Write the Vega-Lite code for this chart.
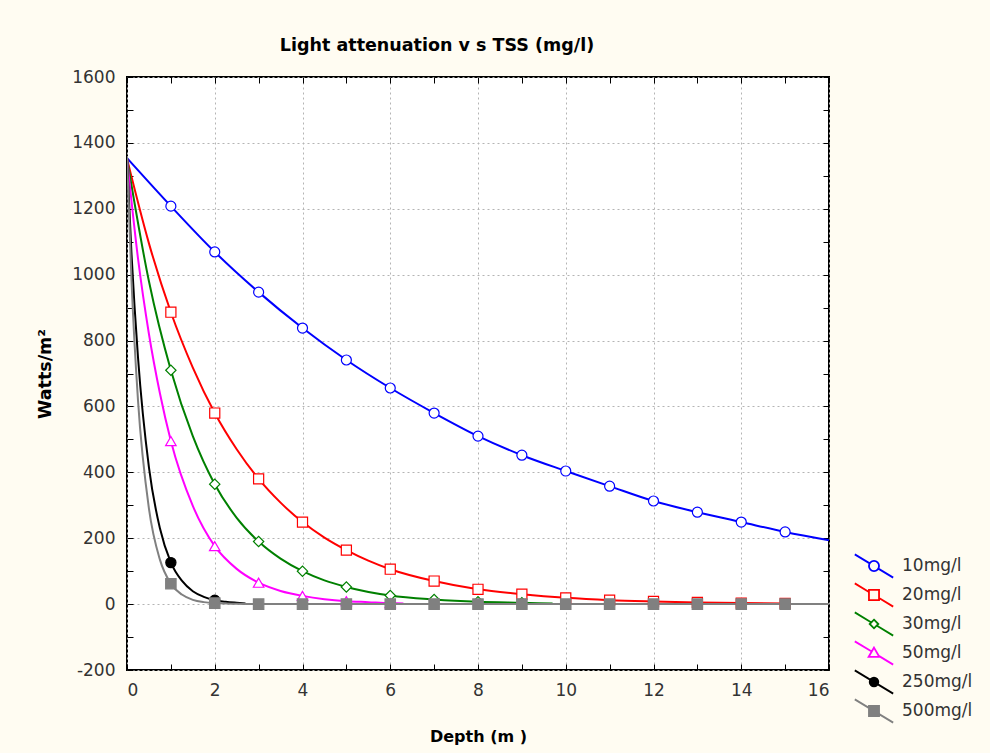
{
  "$schema": "https://vega.github.io/schema/vega-lite/v6.json",
  "width": 702,
  "height": 593,
  "autosize": {"type": "none"},
  "padding": {"left": 127, "top": 77, "right": 161, "bottom": 83},
  "background": "#FFFCF2",
  "title": {
    "text": "Light attenuation v s TSS (mg/l)",
    "font": "DejaVu Sans",
    "fontSize": 17.5,
    "fontWeight": "bold",
    "color": "#000000",
    "anchor": "middle",
    "dx": -41,
    "offset": 14
  },
  "datasets": {
    "lines": [
      {"series": "10mg/l", "depth": 0, "watts": 1354},
      {"series": "10mg/l", "depth": 1, "watts": 1208},
      {"series": "10mg/l", "depth": 2, "watts": 1069},
      {"series": "10mg/l", "depth": 3, "watts": 947},
      {"series": "10mg/l", "depth": 4, "watts": 838},
      {"series": "10mg/l", "depth": 5, "watts": 741},
      {"series": "10mg/l", "depth": 6, "watts": 656},
      {"series": "10mg/l", "depth": 7, "watts": 580},
      {"series": "10mg/l", "depth": 8, "watts": 510},
      {"series": "10mg/l", "depth": 9, "watts": 452},
      {"series": "10mg/l", "depth": 10, "watts": 404},
      {"series": "10mg/l", "depth": 11, "watts": 358},
      {"series": "10mg/l", "depth": 12, "watts": 313},
      {"series": "10mg/l", "depth": 13, "watts": 279},
      {"series": "10mg/l", "depth": 14, "watts": 249},
      {"series": "10mg/l", "depth": 15, "watts": 219},
      {"series": "10mg/l", "depth": 16, "watts": 194},
      {"series": "20mg/l", "depth": 0, "watts": 1352},
      {"series": "20mg/l", "depth": 0.5, "watts": 1095},
      {"series": "20mg/l", "depth": 1, "watts": 886},
      {"series": "20mg/l", "depth": 1.5, "watts": 718},
      {"series": "20mg/l", "depth": 2, "watts": 580},
      {"series": "20mg/l", "depth": 2.5, "watts": 470},
      {"series": "20mg/l", "depth": 3, "watts": 380},
      {"series": "20mg/l", "depth": 3.5, "watts": 308},
      {"series": "20mg/l", "depth": 4, "watts": 249},
      {"series": "20mg/l", "depth": 4.5, "watts": 202},
      {"series": "20mg/l", "depth": 5, "watts": 164},
      {"series": "20mg/l", "depth": 5.5, "watts": 132},
      {"series": "20mg/l", "depth": 6, "watts": 106},
      {"series": "20mg/l", "depth": 7, "watts": 70},
      {"series": "20mg/l", "depth": 8, "watts": 45},
      {"series": "20mg/l", "depth": 9, "watts": 30},
      {"series": "20mg/l", "depth": 10, "watts": 19},
      {"series": "20mg/l", "depth": 11, "watts": 12},
      {"series": "20mg/l", "depth": 12, "watts": 8},
      {"series": "20mg/l", "depth": 13, "watts": 5},
      {"series": "20mg/l", "depth": 14, "watts": 3},
      {"series": "20mg/l", "depth": 15, "watts": 2},
      {"series": "30mg/l", "depth": 0, "watts": 1352},
      {"series": "30mg/l", "depth": 0.5, "watts": 980},
      {"series": "30mg/l", "depth": 1, "watts": 710},
      {"series": "30mg/l", "depth": 1.5, "watts": 510},
      {"series": "30mg/l", "depth": 2, "watts": 364},
      {"series": "30mg/l", "depth": 2.5, "watts": 262},
      {"series": "30mg/l", "depth": 3, "watts": 190},
      {"series": "30mg/l", "depth": 3.5, "watts": 138},
      {"series": "30mg/l", "depth": 4, "watts": 100},
      {"series": "30mg/l", "depth": 4.5, "watts": 72},
      {"series": "30mg/l", "depth": 5, "watts": 52},
      {"series": "30mg/l", "depth": 6, "watts": 26},
      {"series": "30mg/l", "depth": 7, "watts": 14},
      {"series": "30mg/l", "depth": 8, "watts": 7},
      {"series": "30mg/l", "depth": 9, "watts": 4},
      {"series": "30mg/l", "depth": 9.7, "watts": 2},
      {"series": "50mg/l", "depth": 0, "watts": 1352},
      {"series": "50mg/l", "depth": 0.25, "watts": 1050},
      {"series": "50mg/l", "depth": 0.5, "watts": 820},
      {"series": "50mg/l", "depth": 0.75, "watts": 640},
      {"series": "50mg/l", "depth": 1, "watts": 495},
      {"series": "50mg/l", "depth": 1.5, "watts": 298},
      {"series": "50mg/l", "depth": 2, "watts": 176},
      {"series": "50mg/l", "depth": 2.5, "watts": 107},
      {"series": "50mg/l", "depth": 3, "watts": 65},
      {"series": "50mg/l", "depth": 3.5, "watts": 40},
      {"series": "50mg/l", "depth": 4, "watts": 25},
      {"series": "50mg/l", "depth": 4.5, "watts": 15},
      {"series": "50mg/l", "depth": 5, "watts": 9},
      {"series": "50mg/l", "depth": 5.5, "watts": 6},
      {"series": "50mg/l", "depth": 6, "watts": 3},
      {"series": "50mg/l", "depth": 6.3, "watts": 2},
      {"series": "250mg/l", "depth": 0, "watts": 1355},
      {"series": "250mg/l", "depth": 0.1, "watts": 1070},
      {"series": "250mg/l", "depth": 0.25, "watts": 750},
      {"series": "250mg/l", "depth": 0.5, "watts": 415},
      {"series": "250mg/l", "depth": 0.75, "watts": 230},
      {"series": "250mg/l", "depth": 1, "watts": 126},
      {"series": "250mg/l", "depth": 1.25, "watts": 71},
      {"series": "250mg/l", "depth": 1.5, "watts": 39},
      {"series": "250mg/l", "depth": 1.75, "watts": 22},
      {"series": "250mg/l", "depth": 2, "watts": 12},
      {"series": "250mg/l", "depth": 2.25, "watts": 7},
      {"series": "250mg/l", "depth": 2.5, "watts": 4},
      {"series": "250mg/l", "depth": 2.7, "watts": 2},
      {"series": "500mg/l", "depth": 0, "watts": 1360},
      {"series": "500mg/l", "depth": 0.1, "watts": 990},
      {"series": "500mg/l", "depth": 0.25, "watts": 620},
      {"series": "500mg/l", "depth": 0.5, "watts": 290},
      {"series": "500mg/l", "depth": 0.75, "watts": 135},
      {"series": "500mg/l", "depth": 1, "watts": 62},
      {"series": "500mg/l", "depth": 1.25, "watts": 29},
      {"series": "500mg/l", "depth": 1.5, "watts": 13},
      {"series": "500mg/l", "depth": 1.75, "watts": 6},
      {"series": "500mg/l", "depth": 2, "watts": 3},
      {"series": "500mg/l", "depth": 2.5, "watts": 1},
      {"series": "500mg/l", "depth": 3, "watts": 0},
      {"series": "500mg/l", "depth": 4, "watts": 0},
      {"series": "500mg/l", "depth": 5, "watts": 0},
      {"series": "500mg/l", "depth": 6, "watts": 0},
      {"series": "500mg/l", "depth": 7, "watts": 0},
      {"series": "500mg/l", "depth": 8, "watts": 0},
      {"series": "500mg/l", "depth": 9, "watts": 0},
      {"series": "500mg/l", "depth": 10, "watts": 0},
      {"series": "500mg/l", "depth": 11, "watts": 0},
      {"series": "500mg/l", "depth": 12, "watts": 0},
      {"series": "500mg/l", "depth": 13, "watts": 0},
      {"series": "500mg/l", "depth": 14, "watts": 0},
      {"series": "500mg/l", "depth": 15, "watts": 0},
      {"series": "500mg/l", "depth": 16, "watts": 0}
    ],
    "markers": [
      {"series": "10mg/l", "depth": 1, "watts": 1208},
      {"series": "10mg/l", "depth": 2, "watts": 1069},
      {"series": "10mg/l", "depth": 3, "watts": 947},
      {"series": "10mg/l", "depth": 4, "watts": 838},
      {"series": "10mg/l", "depth": 5, "watts": 741},
      {"series": "10mg/l", "depth": 6, "watts": 656},
      {"series": "10mg/l", "depth": 7, "watts": 580},
      {"series": "10mg/l", "depth": 8, "watts": 510},
      {"series": "10mg/l", "depth": 9, "watts": 452},
      {"series": "10mg/l", "depth": 10, "watts": 404},
      {"series": "10mg/l", "depth": 11, "watts": 358},
      {"series": "10mg/l", "depth": 12, "watts": 313},
      {"series": "10mg/l", "depth": 13, "watts": 279},
      {"series": "10mg/l", "depth": 14, "watts": 249},
      {"series": "10mg/l", "depth": 15, "watts": 219},
      {"series": "20mg/l", "depth": 1, "watts": 886},
      {"series": "20mg/l", "depth": 2, "watts": 580},
      {"series": "20mg/l", "depth": 3, "watts": 380},
      {"series": "20mg/l", "depth": 4, "watts": 249},
      {"series": "20mg/l", "depth": 5, "watts": 164},
      {"series": "20mg/l", "depth": 6, "watts": 106},
      {"series": "20mg/l", "depth": 7, "watts": 70},
      {"series": "20mg/l", "depth": 8, "watts": 45},
      {"series": "20mg/l", "depth": 9, "watts": 30},
      {"series": "20mg/l", "depth": 10, "watts": 19},
      {"series": "20mg/l", "depth": 11, "watts": 12},
      {"series": "20mg/l", "depth": 12, "watts": 8},
      {"series": "20mg/l", "depth": 13, "watts": 5},
      {"series": "20mg/l", "depth": 14, "watts": 3},
      {"series": "20mg/l", "depth": 15, "watts": 2},
      {"series": "30mg/l", "depth": 1, "watts": 710},
      {"series": "30mg/l", "depth": 2, "watts": 364},
      {"series": "30mg/l", "depth": 3, "watts": 190},
      {"series": "30mg/l", "depth": 4, "watts": 100},
      {"series": "30mg/l", "depth": 5, "watts": 52},
      {"series": "30mg/l", "depth": 6, "watts": 26},
      {"series": "30mg/l", "depth": 7, "watts": 14},
      {"series": "30mg/l", "depth": 8, "watts": 7},
      {"series": "30mg/l", "depth": 9, "watts": 4},
      {"series": "50mg/l", "depth": 1, "watts": 495},
      {"series": "50mg/l", "depth": 2, "watts": 176},
      {"series": "50mg/l", "depth": 3, "watts": 65},
      {"series": "50mg/l", "depth": 4, "watts": 25},
      {"series": "50mg/l", "depth": 5, "watts": 9},
      {"series": "50mg/l", "depth": 6, "watts": 3},
      {"series": "250mg/l", "depth": 1, "watts": 126},
      {"series": "250mg/l", "depth": 2, "watts": 12},
      {"series": "500mg/l", "depth": 1, "watts": 62},
      {"series": "500mg/l", "depth": 2, "watts": 3},
      {"series": "500mg/l", "depth": 3, "watts": 0},
      {"series": "500mg/l", "depth": 4, "watts": 0},
      {"series": "500mg/l", "depth": 5, "watts": 0},
      {"series": "500mg/l", "depth": 6, "watts": 0},
      {"series": "500mg/l", "depth": 7, "watts": 0},
      {"series": "500mg/l", "depth": 8, "watts": 0},
      {"series": "500mg/l", "depth": 9, "watts": 0},
      {"series": "500mg/l", "depth": 10, "watts": 0},
      {"series": "500mg/l", "depth": 11, "watts": 0},
      {"series": "500mg/l", "depth": 12, "watts": 0},
      {"series": "500mg/l", "depth": 13, "watts": 0},
      {"series": "500mg/l", "depth": 14, "watts": 0},
      {"series": "500mg/l", "depth": 15, "watts": 0}
    ]
  },
  "layer": [
    {
      "data": {"name": "lines"},
      "mark": {"type": "line", "interpolate": "monotone", "strokeWidth": 2, "clip": true},
      "encoding": {
        "x": {
          "field": "depth", "type": "quantitative",
          "scale": {"domain": [0, 16], "nice": false, "zero": false},
          "axis": {
            "orient": "bottom",
            "values": [0,1,2,3,4,5,6,7,8,9,10,11,12,13,14,15,16],
            "labelExpr": "datum.value % 2 === 0 ? '' + datum.value : ''",
            "title": "Depth (m )",
            "titleY": 66,
            "titleBaseline": "middle",
            "grid": true,
            "gridOpacity": {"condition": {"test": "datum.value % 2 === 0", "value": 1}, "value": 0}
          }
        },
        "y": {
          "field": "watts", "type": "quantitative",
          "scale": {"domain": [-200, 1600], "nice": false, "zero": false},
          "axis": {
            "orient": "left",
            "values": [-200,-100,0,100,200,300,400,500,600,700,800,900,1000,1100,1200,1300,1400,1500,1600],
            "labelExpr": "datum.value % 200 === 0 ? '' + datum.value : ''",
            "title": "Watts/m²",
            "titleFontSize": 17.5,
            "titleX": -82,
            "titleY": 296.5,
            "titleBaseline": "middle",
            "titleAngle": 270,
            "grid": true,
            "gridOpacity": {"condition": {"test": "datum.value % 200 === 0", "value": 1}, "value": 0}
          }
        },
        "color": {
          "field": "series", "type": "nominal",
          "scale": {
            "domain": ["10mg/l", "20mg/l", "30mg/l", "50mg/l", "250mg/l", "500mg/l"],
            "range": ["#0000FF", "#FF0000", "#008000", "#FF00FF", "#000000", "#808080"]
          },
          "legend": {
            "orient": "none",
            "legendX": 734,
            "legendY": 476,
            "title": null,
            "padding": 0,
            "symbolSize": 576,
            "symbolStrokeWidth": 1.8,
            "labelOffset": 15,
            "rowPadding": -5,
            "labelFont": "DejaVu Sans",
            "labelFontSize": 17,
            "labelColor": "#333333",
            "encode": {
              "symbols": {
                "update": {
                  "shape": {"signal": "datum.value === '10mg/l' ? 'M-1.6,-0.97L-0.36,-0.22M0.36,0.22L1.6,0.97M0.42,0A0.42,0.42,0,1,1,-0.42,0A0.42,0.42,0,1,1,0.42,0Z' : datum.value === '20mg/l' ? 'M-1.6,-0.97L-0.42,-0.25M0.42,0.25L1.6,0.97M-0.42,-0.42L0.42,-0.42L0.42,0.42L-0.42,0.42Z' : datum.value === '30mg/l' ? 'M-1.6,-0.97L-0.25,-0.15M0.25,0.15L1.6,0.97M0,-0.36L0.36,0L0,0.36L-0.36,0Z' : datum.value === '50mg/l' ? 'M-1.6,-0.97L-0.19,-0.12M0.4,0.24L1.6,0.97M0,-0.45L0.45,0.33L-0.45,0.33Z' : datum.value === '250mg/l' ? 'M-1.6,-0.97L1.6,0.97M0.36,0A0.36,0.36,0,1,1,-0.36,0A0.36,0.36,0,1,1,0.36,0Z' : 'M-1.6,-0.97L1.6,0.97M-0.42,-0.42L0.42,-0.42L0.42,0.42L-0.42,0.42Z'"},
                  "fill": {"signal": "datum.value === '250mg/l' ? '#000000' : datum.value === '500mg/l' ? '#808080' : '#FFFCF2'"},
                  "strokeWidth": {"value": 1.8},
                  "opacity": {"value": 1}
                }
              }
            }
          }
        }
      }
    },
    {
      "data": {"name": "markers"},
      "mark": {"type": "point", "filled": true, "strokeWidth": 1.2, "opacity": 1},
      "encoding": {
        "x": {
          "field": "depth", "type": "quantitative",
          "axis": {
            "orient": "top",
            "values": [0,1,2,3,4,5,6,7,8,9,10,11,12,13,14,15,16],
            "labels": false,
            "title": null,
            "grid": false
          }
        },
        "y": {
          "field": "watts", "type": "quantitative",
          "axis": {
            "orient": "right",
            "values": [-200,-100,0,100,200,300,400,500,600,700,800,900,1000,1100,1200,1300,1400,1500,1600],
            "labels": false,
            "title": null,
            "grid": false
          }
        },
        "shape": {
          "field": "series", "type": "nominal",
          "scale": {"range": ["circle", "square", "circle", "diamond", "square", "triangle-up"]},
          "legend": null
        },
        "stroke": {
          "field": "series", "type": "nominal",
          "scale": {"range": ["#0000FF", "#FF0000", "#000000", "#008000", "#808080", "#FF00FF"]},
          "legend": null
        },
        "fill": {
          "field": "series", "type": "nominal",
          "scale": {"range": ["#FFFFFF", "#FFFFFF", "#000000", "#FFFFFF", "#808080", "#FFFFFF"]},
          "legend": null
        },
        "size": {
          "field": "series", "type": "nominal",
          "scale": {"range": [100, 110, 60, 60, 110, 90]},
          "legend": null
        }
      }
    }
  ],
  "resolve": {"axis": {"x": "independent", "y": "independent"}},
  "config": {
    "view": {"stroke": "#000000", "strokeWidth": 2, "fill": "#FFFFFF"},
    "axis": {
      "domain": false,
      "ticks": true,
      "tickColor": "#000000",
      "tickWidth": 1,
      "tickSize": -6,
      "labelFont": "DejaVu Sans",
      "labelFontSize": 17,
      "labelColor": "#333333",
      "labelPadding": 18,
      "titleFont": "DejaVu Sans",
      "titleFontSize": 16,
      "titleFontWeight": "bold",
      "titleColor": "#000000",
      "gridColor": "#B4B4B4",
      "gridDash": [2, 3],
      "gridWidth": 1
    }
  }
}
